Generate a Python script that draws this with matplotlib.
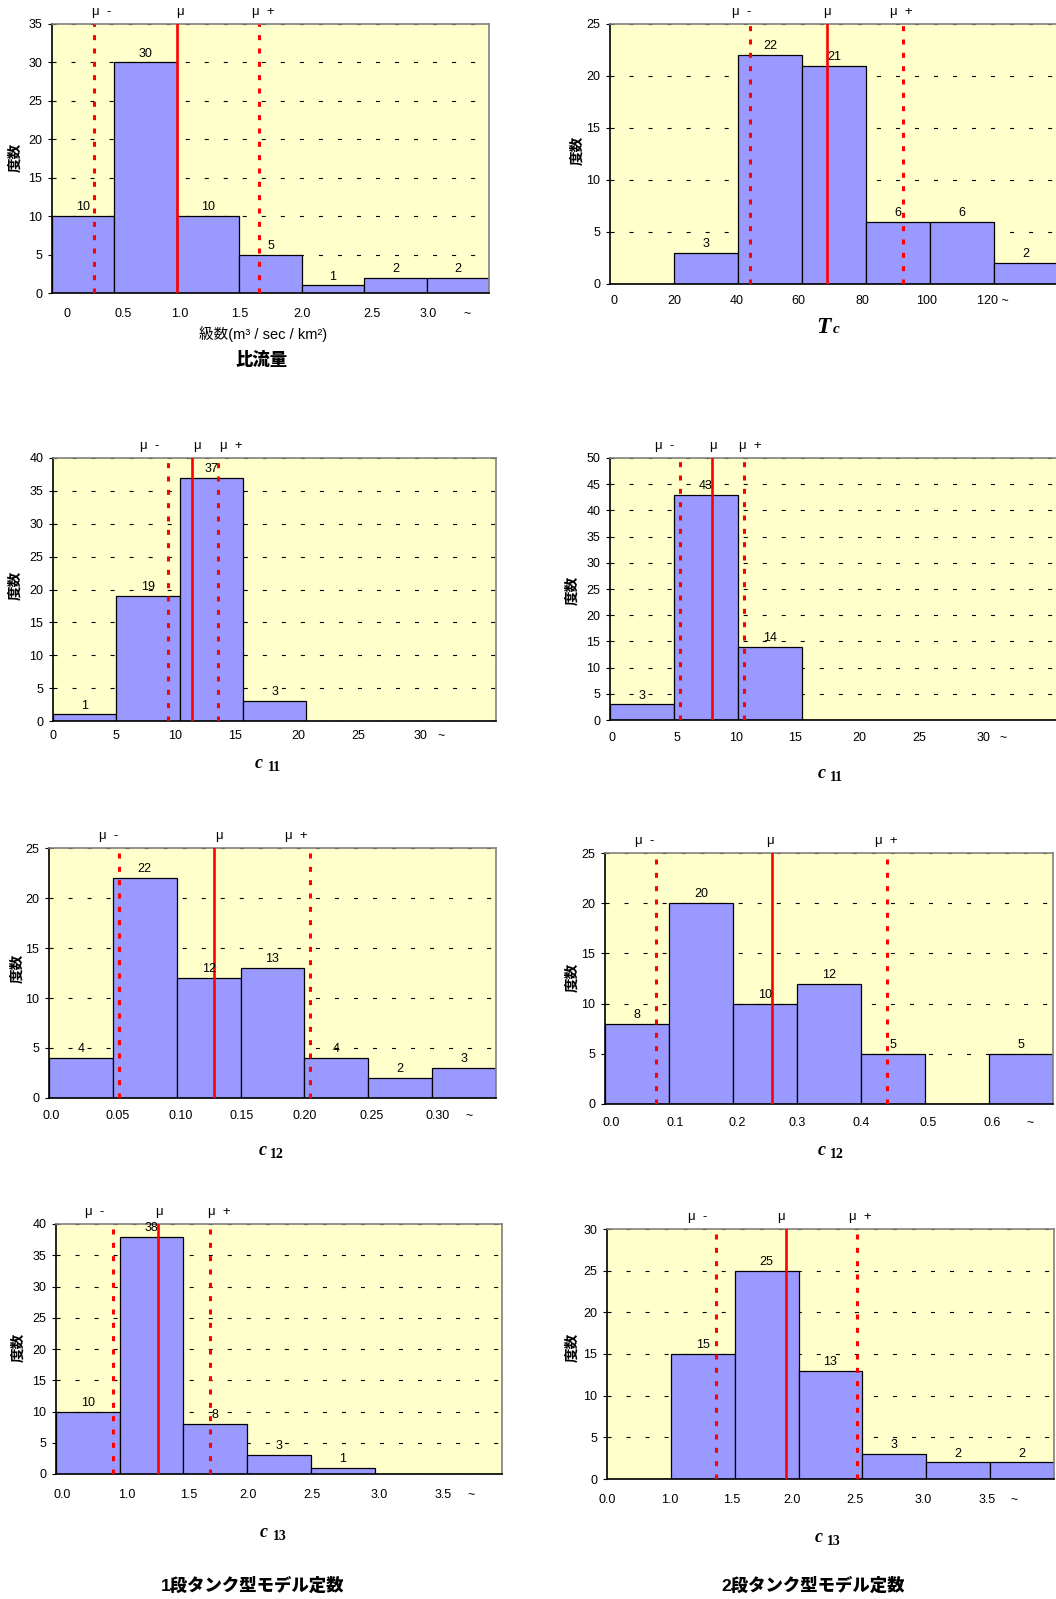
import numpy as np
import matplotlib
matplotlib.use('Agg')
import matplotlib.pyplot as plt
from matplotlib.transforms import blended_transform_factory

plt.rcParams['font.family'] = ['Liberation Sans', 'Noto Sans CJK JP']
plt.rcParams['lines.scale_dashes'] = False

W, H = 1056, 1599

# --- データ（度数、目盛ラベル、平均線 μ-, μ, μ+ の位置はビン番号単位） ---
hiryu_counts = [10, 30, 10, 5, 1, 2, 2]
hiryu_ticks = ['0', '0.5', '1.0', '1.5', '2.0', '2.5', '3.0', '~']
hiryu_mu = [0.67, 2.0, 3.32]

tc_counts = [0, 3, 22, 21, 6, 6, 2]
tc_ticks = ['0', '20', '40', '60', '80', '100', '120 ~']
tc_mu = [2.19, 3.39, 4.58]

c11_ticks = ['0', '5', '10', '15', '20', '25', '30', '~']
c11_1_counts = [1, 19, 37, 3, 0, 0, 0]
c11_1_mu = [1.81, 2.19, 2.60]
c11_2_counts = [3, 43, 14, 0, 0, 0, 0]
c11_2_mu = [1.10, 1.60, 2.10]

c12_1_ticks = ['0.0', '0.05', '0.10', '0.15', '0.20', '0.25', '0.30', '~']
c12_1_counts = [4, 22, 12, 13, 4, 2, 3]
c12_1_mu = [1.10, 2.59, 4.08]
c12_2_ticks = ['0.0', '0.1', '0.2', '0.3', '0.4', '0.5', '0.6', '~']
c12_2_counts = [8, 20, 10, 12, 5, 0, 5]
c12_2_mu = [0.80, 2.61, 4.40]

c13_ticks = ['0.0', '1.0', '1.5', '2.0', '2.5', '3.0', '3.5', '~']
c13_1_counts = [10, 38, 8, 3, 1, 0, 0]
c13_1_mu = [0.90, 1.60, 2.41]
c13_2_counts = [0, 15, 25, 13, 3, 2, 2]
c13_2_mu = [1.70, 2.80, 3.91]

mu_names = ['μ  -', 'μ', 'μ  +']

fig = plt.figure(figsize=(W / 100, H / 100), dpi=100)


def fx(px):
    return px / W


def fy(py):
    return 1 - py / H


def draw_panel(box, counts, ticks, tick_pos, ymax, mu, mu_lab, ylab_xy, tick_pad):
    L, T, R, B = box
    ax = fig.add_axes([fx(L), fy(B), (R - L) / W, (B - T) / H])
    ax.set_facecolor('#FFFFCC')
    x = np.arange(len(counts))
    ax.bar(x, counts, width=1, align='edge', color='#9999FF',
           edgecolor='black', linewidth=0.9, zorder=2)
    for xi, c in zip(x, counts):
        if c > 0:
            ax.annotate(str(c), (xi + 0.5, c), xytext=(0, 2), textcoords='offset points',
                        ha='center', va='bottom', fontsize=9, zorder=6)
    ax.set_xlim(0, len(counts))
    ax.set_ylim(0, ymax)
    ax.set_yticks(np.arange(0, ymax + 1, 5))
    ax.grid(axis='y', color='black', linewidth=0.8, linestyle=(0, (2.9, 10.8)))
    ax.set_axisbelow(True)
    ax.set_xticks(tick_pos, ticks)
    ax.tick_params(axis='x', length=0, pad=tick_pad, labelsize=9)
    ax.tick_params(axis='y', length=3, width=0.8, pad=4, labelsize=9)
    for s in ['left', 'bottom']:
        ax.spines[s].set_color('black')
        ax.spines[s].set_linewidth(1.2)
    for s in ['top', 'right']:
        ax.spines[s].set_color('#808080')
        ax.spines[s].set_linewidth(1.2)

    # 平均値と ±σ の線
    ax.axvline(mu[0], color='#FF0000', lw=2.2, linestyle=(0, (3.6, 6.0)), zorder=4)
    ax.axvline(mu[1], color='#FF0000', lw=1.9, zorder=4)
    ax.axvline(mu[2], color='#FF0000', lw=2.2, linestyle=(0, (3.6, 6.0)), zorder=4)
    trans = blended_transform_factory(ax.transData, ax.transAxes)
    for p, s in zip(mu_lab, mu_names):
        ax.annotate(s, (p, 1), xycoords=trans, xytext=(0, 8.6), textcoords='offset points',
                    ha='center', va='center', fontsize=9.5, annotation_clip=False)

    fig.text(fx(ylab_xy[0]), fy(ylab_xy[1]), '度数', rotation=90, ha='center', va='center',
             fontsize=10.5, fontweight='bold')
    return ax


def sub_label(main_right, sub_left, base_main, base_sub, main, sub, main_size, sub_size, sub_italic=False):
    fig.text(fx(main_right), fy(base_main), main, ha='right', va='baseline',
             family='Liberation Serif', style='italic', weight='bold', fontsize=main_size)
    fig.text(fx(sub_left), fy(base_sub), sub, ha='left', va='baseline',
             family='Liberation Serif', style='italic' if sub_italic else 'normal',
             weight='bold', fontsize=sub_size)


# 比流量
draw_panel((52, 24, 489, 293), hiryu_counts, hiryu_ticks,
           [0.24, 1.14, 2.05, 3.01, 4.01, 5.12, 6.02, 6.65], 35,
           hiryu_mu, [0.80, 2.05, 3.38], (15, 157), 10.5)
fig.text(fx(263), fy(334), '級数(m³ / sec / km²)', ha='center', va='center', fontsize=10.5)
fig.text(fx(262), fy(359), '比流量', ha='center', va='center', fontsize=12.5, fontweight='black')

# Tc
draw_panel((610, 24, 1058, 284), tc_counts, tc_ticks,
           [0.06, 1.0, 1.98, 2.94, 3.94, 4.94, 5.98], 25,
           tc_mu, [2.06, 3.39, 4.55], (577, 150), 8.0)
sub_label(831, 833, 333, 333, 'T', 'c', 17, 11, sub_italic=True)

# c11
draw_panel((53, 458, 496, 721), c11_1_counts, c11_ticks,
           [0.0, 1.0, 1.93, 2.87, 3.88, 4.83, 5.81, 6.13], 40,
           c11_1_mu, [1.52, 2.27, 2.81], (15, 585), 6.5)
sub_label(263, 268, 768, 771, 'c', '11', 13, 10)

draw_panel((610, 458, 1058, 720), c11_2_counts, c11_ticks,
           [0.03, 1.05, 1.97, 2.89, 3.89, 4.83, 5.83, 6.14], 50,
           c11_2_mu, [0.86, 1.61, 2.19], (572, 590), 8.7)
sub_label(826, 830, 778, 781, 'c', '11', 13, 10)

# c12
draw_panel((49, 848, 496, 1098), c12_1_counts, c12_1_ticks,
           [0.04, 1.08, 2.06, 3.02, 4.0, 5.06, 6.08, 6.58], 25,
           c12_1_mu, [0.93, 2.66, 3.88], (17, 968), 8.7)
sub_label(267, 270, 1155, 1158, 'c', '12', 13, 10)

draw_panel((605, 853, 1053, 1104), c12_2_counts, c12_2_ticks,
           [0.09, 1.09, 2.06, 3.0, 4.0, 5.05, 6.05, 6.64], 25,
           c12_2_mu, [0.62, 2.57, 4.40], (572, 977), 9.4)
sub_label(826, 830, 1155, 1158, 'c', '12', 13, 10)

# c13
draw_panel((56, 1224, 502, 1474), c13_1_counts, c13_ticks,
           [0.1, 1.11, 2.09, 3.01, 4.02, 5.07, 6.08, 6.51], 40,
           c13_1_mu, [0.60, 1.62, 2.56], (18, 1347), 10.9)
sub_label(268, 273, 1537, 1540, 'c', '13', 13, 10)

draw_panel((607, 1229, 1054, 1479), c13_2_counts, c13_ticks,
           [0.0, 0.98, 1.96, 2.90, 3.88, 4.95, 5.95, 6.38], 30,
           c13_2_mu, [1.42, 2.73, 3.97], (572, 1347), 10.9)
sub_label(823, 827, 1542, 1545, 'c', '13', 13, 10)

fig.text(fx(253), fy(1585), '1段タンク型モデル定数', ha='center', va='center',
         fontsize=12.5, fontweight='black')
fig.text(fx(813), fy(1585), '2段タンク型モデル定数', ha='center', va='center',
         fontsize=12.5, fontweight='black')

fig.savefig('out.png', dpi=100)
plt.close(fig)
